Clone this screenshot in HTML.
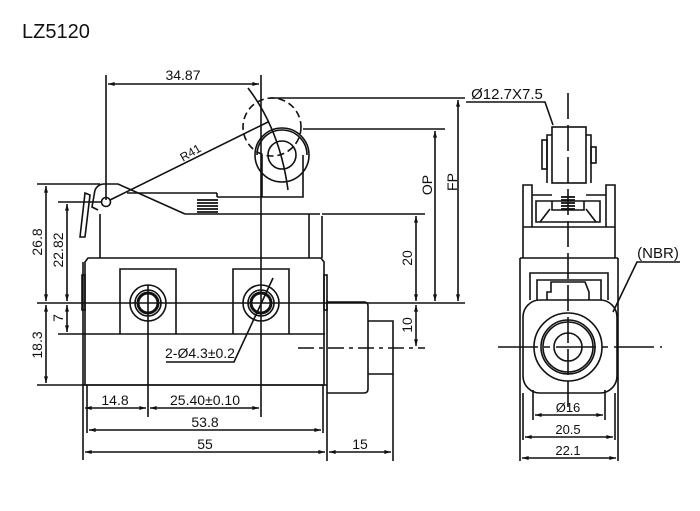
<!DOCTYPE html>
<html><head><meta charset="utf-8"><style>
html,body{margin:0;padding:0;background:#fff;}
svg{display:block;}
text{font-family:"Liberation Sans","DejaVu Sans",sans-serif;fill:#111;}
</style></head><body>
<svg width="700" height="511" viewBox="0 0 700 511" xmlns="http://www.w3.org/2000/svg">
<defs>
<marker id="a" viewBox="0 0 10 6" refX="10" refY="3" markerWidth="8" markerHeight="4" orient="auto-start-reverse" markerUnits="userSpaceOnUse"><path d="M0,0 L10,3 L0,6 z" fill="#111"/></marker>
</defs>
<text x="22" y="38" font-size="20">LZ5120</text>
<g stroke="#111" stroke-width="1.6" fill="none">
<line x1="106" y1="75" x2="106" y2="200"/>
<line x1="108" y1="84" x2="259" y2="84" marker-start="url(#a)" marker-end="url(#a)"/>
<line x1="261" y1="75" x2="261" y2="417"/>
<circle cx="272" cy="127" r="29" stroke-dasharray="7,4"/>
<path d="M248,88 Q280,130 288,190"/>
<line x1="110" y1="200" x2="268" y2="122"/>
<circle cx="282" cy="155" r="27"/>
<circle cx="282" cy="155" r="14"/>
<path d="M262,155 L262,197 L303,197 L303,155"/>
<path d="M257,155 A25,25 0 0 1 307,155"/>
<path d="M95,190 Q98,184 104,184 L118,184 L185,214"/>
<path d="M95,190 L92,207 L98,210"/>
<path d="M85,193 L80,237 L85,237 L90,195 Z"/>
<circle cx="106" cy="202" r="4.5"/>
<line x1="127" y1="193" x2="217" y2="193"/>
<line x1="217" y1="193" x2="217" y2="197"/>
<line x1="217" y1="197" x2="262" y2="197"/>
<g stroke-width="1.8">
<line x1="197" y1="200" x2="218" y2="200"/><line x1="197" y1="203" x2="218" y2="203"/>
<line x1="197" y1="206" x2="218" y2="206"/><line x1="197" y1="209" x2="218" y2="209"/>
<line x1="197" y1="212" x2="218" y2="212"/>
</g>
<line x1="185" y1="214" x2="320" y2="214"/>
<path d="M100,214 L100,258"/><path d="M322,216 L322,258"/><line x1="309" y1="214" x2="309" y2="258"/>
<path d="M85,262 L88,258 L321,258 L324,262 L324,385 L85,385 Z"/>
<rect x="82" y="275" width="3" height="35"/><rect x="324" y="275" width="3" height="35"/>
<line x1="83" y1="262" x2="83" y2="460"/>
<path d="M120,334 L120,269 L176,269 L176,334"/>
<path d="M233,334 L233,269 L289,269 L289,334"/>
<line x1="58" y1="334" x2="325" y2="334"/>
<line x1="37" y1="385" x2="327" y2="385"/>
<g>
<circle cx="148" cy="303" r="18"/><circle cx="148" cy="303" r="13"/><circle cx="148" cy="303" r="10" stroke-width="3"/>
<circle cx="261" cy="303" r="18"/><circle cx="261" cy="303" r="13"/><circle cx="261" cy="303" r="10" stroke-width="3"/>
</g>
<line x1="148" y1="285" x2="148" y2="417"/>
<line x1="37" y1="303" x2="465" y2="303"/>
<path d="M327,302 L364,302 Q368,302 368,306 L368,389 Q368,393 364,393 L327,393"/>
<path d="M368,321 L393,321 L393,374 L368,374"/>
<line x1="327" y1="300" x2="327" y2="461"/>
<line x1="393" y1="374" x2="393" y2="461"/>
<line x1="298" y1="348" x2="425" y2="348" stroke-dasharray="16,5,4,5"/>
<line x1="322" y1="214" x2="425" y2="214"/>
<line x1="416" y1="216" x2="416" y2="301" marker-start="url(#a)" marker-end="url(#a)"/>
<line x1="416" y1="305" x2="416" y2="346" marker-start="url(#a)" marker-end="url(#a)"/>
<line x1="303" y1="129" x2="445" y2="129"/>
<line x1="435" y1="131" x2="435" y2="301" marker-start="url(#a)" marker-end="url(#a)"/>
<line x1="270" y1="98" x2="465" y2="98"/>
<line x1="458" y1="100" x2="458" y2="301" marker-start="url(#a)" marker-end="url(#a)"/>
<line x1="37" y1="184" x2="100" y2="184"/>
<line x1="58" y1="202" x2="102" y2="202"/>
<line x1="46" y1="186" x2="46" y2="301" marker-start="url(#a)" marker-end="url(#a)"/>
<line x1="67" y1="204" x2="67" y2="301" marker-start="url(#a)" marker-end="url(#a)"/>
<line x1="67" y1="305" x2="67" y2="332" marker-start="url(#a)" marker-end="url(#a)"/>
<line x1="46" y1="305" x2="46" y2="383" marker-start="url(#a)" marker-end="url(#a)"/>
<line x1="85" y1="408" x2="146" y2="408" marker-start="url(#a)" marker-end="url(#a)"/>
<line x1="150" y1="408" x2="259" y2="408" marker-start="url(#a)" marker-end="url(#a)"/>
<line x1="87" y1="385" x2="87" y2="433"/>
<line x1="323" y1="385" x2="323" y2="433"/>
<line x1="89" y1="430" x2="321" y2="430" marker-start="url(#a)" marker-end="url(#a)"/>
<line x1="85" y1="452" x2="325" y2="452" marker-start="url(#a)" marker-end="url(#a)"/>
<line x1="329" y1="452" x2="391" y2="452" marker-start="url(#a)" marker-end="url(#a)"/>
<path d="M273,278 L234,362 L166,362"/>

<line x1="568" y1="93" x2="568" y2="413" stroke-dasharray="26,6"/>
<rect x="552" y="127" width="34" height="56"/>
<path d="M547,183 L547,135 L552,135 M586,135 L591,135 L591,183"/>
<rect x="542" y="140" width="5" height="29"/><rect x="591" y="147" width="5" height="16"/>
<path d="M523,258 L523,185 L532,185 L532,227 M615,258 L615,185 L606,185 L606,227"/>
<path d="M532,195 L552,195 M586,195 L606,195"/>
<path d="M536,201 L600,201 L600,222 L536,222 Z"/>
<path d="M552,201 L552,210 L584,210 L584,201"/>
<path d="M540,222 L550,209 M596,222 L586,209"/>
<line x1="523" y1="227" x2="615" y2="227"/>
<g stroke-width="1.8"><line x1="561" y1="197" x2="575" y2="197"/><line x1="561" y1="200" x2="575" y2="200"/><line x1="561" y1="203" x2="575" y2="203"/><line x1="561" y1="206" x2="575" y2="206"/><line x1="561" y1="209" x2="575" y2="209"/></g>
<line x1="520" y1="258" x2="618" y2="258"/>
<line x1="520" y1="258" x2="520" y2="461"/><line x1="618" y1="258" x2="618" y2="461"/>
<path d="M530,300 L530,273 L608,273 L608,300"/>
<path d="M537,300 L537,280 L601,280 L601,300"/>
<path d="M547,300 L547,292 L551,292 L551,282 L585,282 L589,292 L589,300"/>
<rect x="523" y="300" width="94" height="93" rx="17"/>
<circle cx="568" cy="347" r="34"/><circle cx="568" cy="347" r="27"/><circle cx="568" cy="347" r="25"/><circle cx="568" cy="347" r="14"/>
<line x1="498" y1="347" x2="662" y2="347" stroke-dasharray="40,6,6,6"/>
<line x1="533" y1="390" x2="533" y2="420"/><line x1="605" y1="390" x2="605" y2="420"/>
<line x1="523" y1="393" x2="523" y2="440"/><line x1="615" y1="393" x2="615" y2="440"/>
<line x1="535" y1="415" x2="603" y2="415" marker-start="url(#a)" marker-end="url(#a)"/>
<line x1="525" y1="437" x2="613" y2="437" marker-start="url(#a)" marker-end="url(#a)"/>
<line x1="522" y1="458" x2="616" y2="458" marker-start="url(#a)" marker-end="url(#a)"/>
<path d="M466,102 L545,102 L553,125"/>
<path d="M680,262 L637,262 L613,312"/>
</g>
<g font-size="14">
<text x="183" y="80" text-anchor="middle">34.87</text>
<text x="190" y="157" text-anchor="middle" font-size="12" transform="rotate(-30 190 152)">R41</text>
<text x="0" y="0" text-anchor="middle" transform="translate(412,258) rotate(-90)">20</text>
<text x="0" y="0" text-anchor="middle" transform="translate(412,325) rotate(-90)">10</text>
<text x="0" y="0" text-anchor="middle" transform="translate(432,185) rotate(-90)">OP</text>
<text x="0" y="0" text-anchor="middle" transform="translate(457,182) rotate(-90)">FP</text>
<text x="0" y="0" text-anchor="middle" transform="translate(42,242) rotate(-90)">26.8</text>
<text x="0" y="0" text-anchor="middle" transform="translate(63,250) rotate(-90)">22.82</text>
<text x="0" y="0" text-anchor="middle" transform="translate(63,318) rotate(-90)">7</text>
<text x="0" y="0" text-anchor="middle" transform="translate(42,345) rotate(-90)">18.3</text>
<text x="115" y="405" text-anchor="middle">14.8</text>
<text x="205" y="405" text-anchor="middle">25.40±0.10</text>
<text x="205" y="427" text-anchor="middle">53.8</text>
<text x="205" y="449" text-anchor="middle">55</text>
<text x="360" y="449" text-anchor="middle">15</text>
<text x="200" y="358" text-anchor="middle">2-Ø4.3±0.2</text>
<text x="507" y="99" text-anchor="middle" font-size="15">Ø12.7X7.5</text>
<text x="658" y="258" text-anchor="middle" font-size="15">(NBR)</text>
<text x="568" y="412" text-anchor="middle" font-size="13">Ø16</text>
<text x="568" y="434" text-anchor="middle" font-size="13">20.5</text>
<text x="568" y="455" text-anchor="middle" font-size="13">22.1</text>
</g>
</svg>
</body></html>
